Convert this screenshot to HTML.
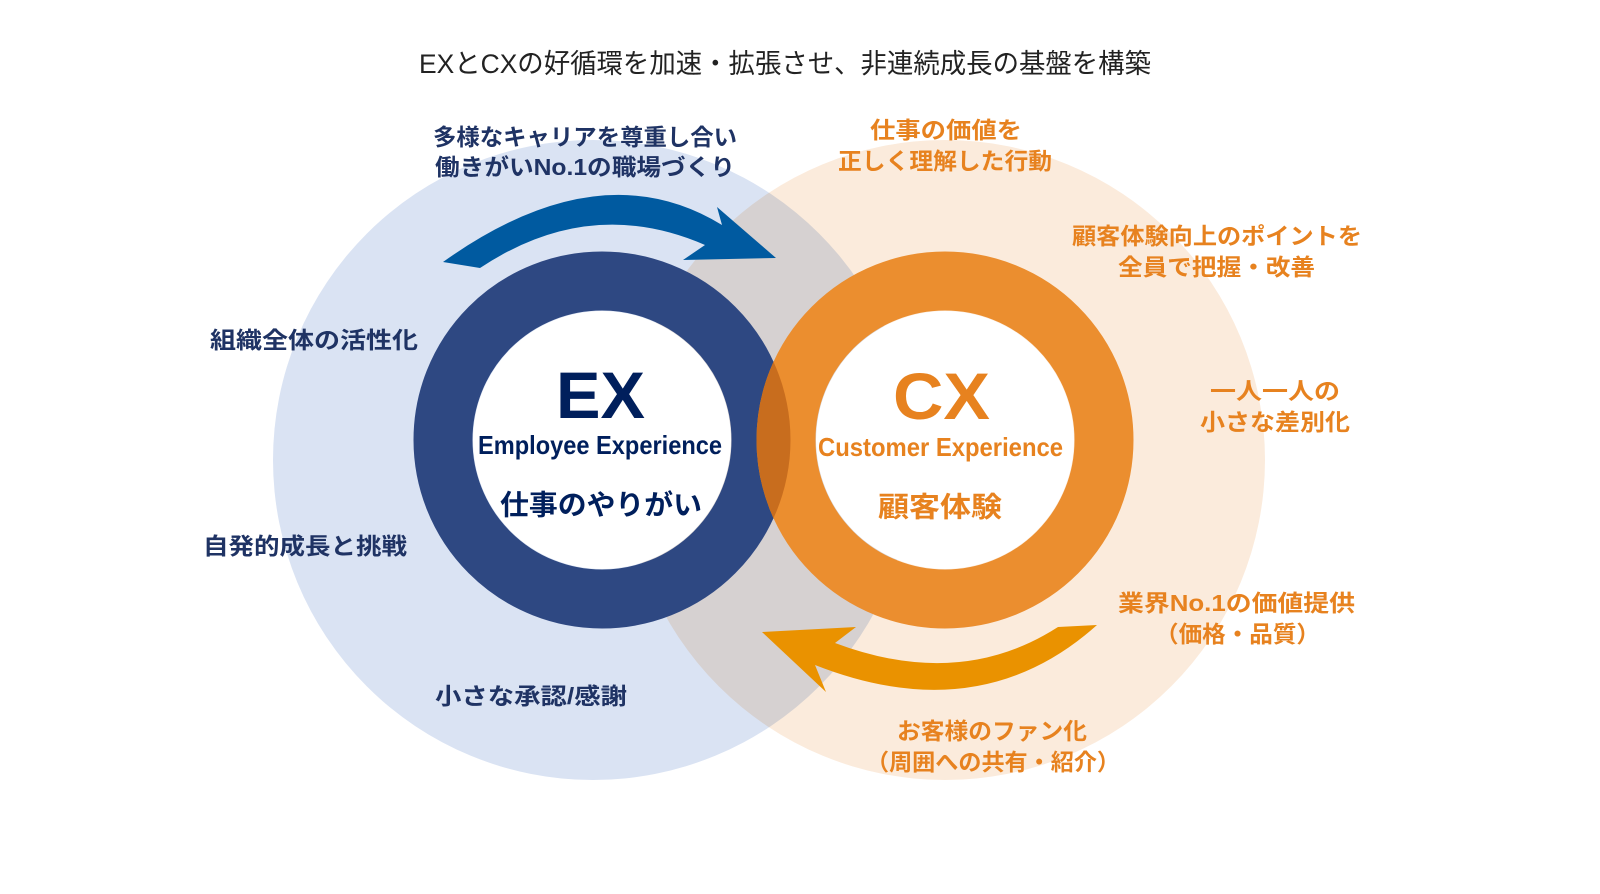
<!DOCTYPE html>
<html><head><meta charset="utf-8"><style>
html,body{margin:0;padding:0;background:#fff;}
svg{display:block;}
text{font-family:"Liberation Sans","Noto Sans CJK JP",sans-serif;font-weight:bold;dominant-baseline:central;}
.b{fill:#1f3364;font-size:23px;}
.o{fill:#e7821f;font-size:23px;}
</style></head><body>
<svg width="1600" height="894" viewBox="0 0 1600 894" xmlns="http://www.w3.org/2000/svg">
<defs>
<clipPath id="blueRing"><circle cx="602" cy="440" r="188.5"/></clipPath>
</defs>
<g style="isolation:isolate">
<circle cx="593" cy="460" r="320" fill="#dae3f3"/>
<circle cx="945" cy="460" r="320" fill="#fbebdc" style="mix-blend-mode:multiply"/>
</g>
<circle cx="602" cy="440" r="159" fill="none" stroke="#2e4882" stroke-width="59"/>
<circle cx="602" cy="440" r="129" fill="#fff"/>
<circle cx="945" cy="440" r="159" fill="none" stroke="#eb8e2f" stroke-width="59"/>
<circle cx="945" cy="440" r="159" fill="none" stroke="#c86d1e" stroke-width="59" clip-path="url(#blueRing)"/>
<circle cx="945" cy="440" r="129" fill="#fff"/>
<path d="M443,262 Q600,150 722,225 L717,207 L776,258 L683,260 L705,245 Q590,195 480,268 Z" fill="#005aa0"/>
<path d="M1097,625 Q980,730 815,665 L826,692 L762,632 L856,627 L835,643 Q960,690 1058,627 Z" fill="#ea9200"/>
<text x="785" y="64" text-anchor="middle" textLength="732" lengthAdjust="spacingAndGlyphs" style="font-size:27px;fill:#222;font-weight:normal">EXとCXの好循環を加速・拡張させ、非連続成長の基盤を構築</text>
<text class="b" x="433" y="137" textLength="304" lengthAdjust="spacingAndGlyphs">多様なキャリアを尊重し合い</text>
<text class="b" x="435" y="167" textLength="300" lengthAdjust="spacingAndGlyphs">働きがいNo.1の職場づくり</text>
<text class="b" x="210" y="340" textLength="208" lengthAdjust="spacingAndGlyphs">組織全体の活性化</text>
<text class="b" x="203" y="546" textLength="204" lengthAdjust="spacingAndGlyphs">自発的成長と挑戦</text>
<text class="b" x="435" y="696" textLength="192" lengthAdjust="spacingAndGlyphs">小さな承認/感謝</text>
<text class="o" x="870" y="130" textLength="152" lengthAdjust="spacingAndGlyphs">仕事の価値を</text>
<text class="o" x="838" y="161" textLength="214" lengthAdjust="spacingAndGlyphs">正しく理解した行動</text>
<text class="o" x="1072" y="236" textLength="290" lengthAdjust="spacingAndGlyphs">顧客体験向上のポイントを</text>
<text class="o" x="1118" y="267" textLength="197" lengthAdjust="spacingAndGlyphs">全員で把握・改善</text>
<text class="o" x="1210" y="391" textLength="130" lengthAdjust="spacingAndGlyphs">一人一人の</text>
<text class="o" x="1200" y="422" textLength="150" lengthAdjust="spacingAndGlyphs">小さな差別化</text>
<text class="o" x="1118" y="603" textLength="237" lengthAdjust="spacingAndGlyphs">業界No.1の価値提供</text>
<text class="o" x="1155" y="634" textLength="165" lengthAdjust="spacingAndGlyphs">（価格・品質）</text>
<text class="o" x="897" y="731" textLength="190" lengthAdjust="spacingAndGlyphs">お客様のファン化</text>
<text class="o" x="866" y="762" textLength="254" lengthAdjust="spacingAndGlyphs">（周囲への共有・紹介）</text>
<text x="556" y="395" textLength="89" lengthAdjust="spacingAndGlyphs" style="font-size:66px;fill:#001f5c">EX</text>
<text x="478" y="445" textLength="244" lengthAdjust="spacingAndGlyphs" style="font-size:26px;fill:#001f5c">Employee Experience</text>
<text x="500" y="505" textLength="202" lengthAdjust="spacingAndGlyphs" style="font-size:28px;fill:#001f5c">仕事のやりがい</text>
<text x="893" y="396" textLength="97" lengthAdjust="spacingAndGlyphs" style="font-size:66px;fill:#e7821f">CX</text>
<text x="818" y="447" textLength="245" lengthAdjust="spacingAndGlyphs" style="font-size:26px;fill:#e7821f">Customer Experience</text>
<text x="878" y="507" textLength="124" lengthAdjust="spacingAndGlyphs" style="font-size:28px;fill:#e7821f">顧客体験</text>
</svg>
</body></html>
